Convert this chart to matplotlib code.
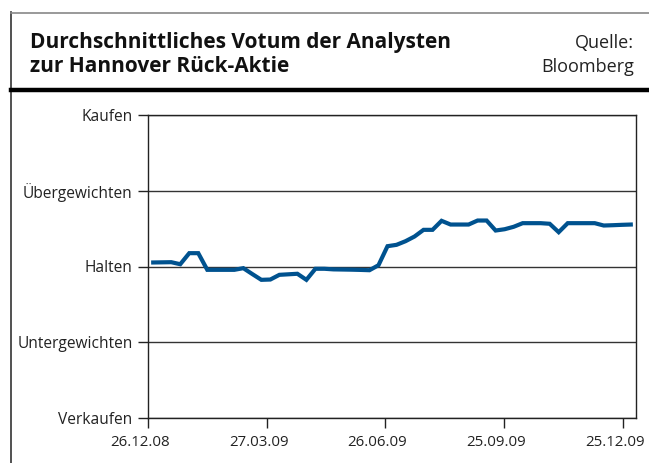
import matplotlib.pyplot as plt
import matplotlib.dates as mdates
import matplotlib.transforms as mtransforms
import pandas as pd
from matplotlib.lines import Line2D

# weekly average analyst vote (1 = Verkaufen ... 5 = Kaufen)
votum = [3.053, 3.055, 3.057, 3.030, 3.176, 3.176, 2.956, 2.956, 2.956, 2.956,
         2.978, 2.900, 2.824, 2.828, 2.890, 2.897, 2.904, 2.824, 2.970, 2.970,
         2.962, 2.960, 2.958, 2.955, 2.951, 3.017, 3.268, 3.286, 3.334, 3.396,
         3.484, 3.484, 3.603, 3.554, 3.554, 3.554, 3.607, 3.607, 3.475, 3.492,
         3.524, 3.572, 3.572, 3.572, 3.564, 3.453, 3.572, 3.572, 3.572, 3.572,
         3.541, 3.545, 3.550, 3.554]
dates = pd.date_range("2008-12-30", "2009-12-31", periods=len(votum))

y_labels = ["Verkaufen", "Untergewichten", "Halten", "Übergewichten", "Kaufen"]
x_ticks = pd.to_datetime(["2008-12-26", "2009-03-27", "2009-06-26", "2009-09-25", "2009-12-25"])

plt.rcParams['font.family'] = ['Open Sans', 'DejaVu Sans']

fig = plt.figure(figsize=(6.49, 4.63), dpi=100)

# outer frame of the box
fig.add_artist(Line2D([11/649, 11/649], [0, 1 - 12/463], color='#333333', lw=1.2))
fig.add_artist(Line2D([11/649, 1], [1 - 12.5/463, 1 - 12.5/463], color='#888888', lw=1.2))
fig.add_artist(Line2D([11/649, 1], [1 - 90/463, 1 - 90/463], color='black', lw=3.2))

fig.text(30/649, 1 - 72/463, "Durchschnittliches Votum der Analysten\nzur Hannover Rück-Aktie",
         fontsize=15, fontweight='bold', ha='left', va='baseline', linespacing=1.2,
         color='#111111')
fig.text(634/649, 1 - 72/463, "Quelle:\nBloomberg", fontsize=13, ha='right', va='baseline',
         linespacing=1.4, color='#222222', multialignment='right')

ax = fig.add_axes([148/649, 1 - 418/463, (636 - 148)/649, (418 - 115)/463])
ax.plot(dates, votum, color='#00528f', lw=3.0, solid_joinstyle='miter')

ax.set_ylim(1, 5)
ax.set_yticks([1, 2, 3, 4, 5])
ax.set_yticklabels(y_labels)
ax.set_xlim(pd.Timestamp("2008-12-26"), pd.Timestamp("2010-01-04"))
ax.set_xticks(x_ticks)
ax.xaxis.set_major_formatter(mdates.DateFormatter("%d.%m.%y"))

ax.yaxis.grid(True, color='#333333', lw=1.0)
ax.set_axisbelow(True)
for s in ax.spines.values():
    s.set_color('#222222')
    s.set_linewidth(1.0)
ax.tick_params(axis='y', length=7, width=1, color='#222222', labelsize=11.2, pad=4,
               labelcolor='#222222')
ax.tick_params(axis='x', length=7, width=1, color='#222222', labelsize=10.8, pad=5,
               labelcolor='#222222')

# date labels sit a little left of their ticks in the original
shift = mtransforms.ScaledTranslation(-8/100, 0, fig.dpi_scale_trans)
for lbl in ax.get_xticklabels():
    lbl.set_transform(lbl.get_transform() + shift)

fig.savefig("out.png", dpi=100)
